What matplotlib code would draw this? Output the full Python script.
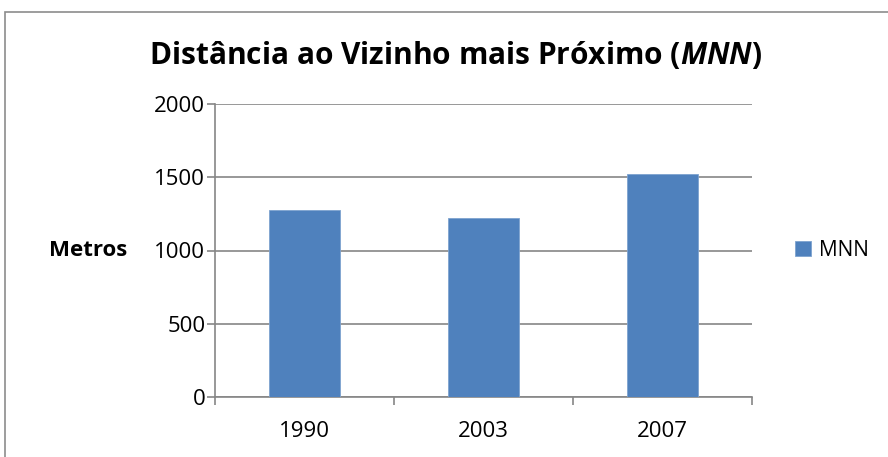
import matplotlib
matplotlib.use("Agg")
import matplotlib.pyplot as plt
from matplotlib.patches import Rectangle

years = ["1990", "2003", "2007"]
mnn = [1277, 1222, 1523]
y_ticks = [0, 500, 1000, 1500, 2000]

plt.rcParams["font.family"] = ["Open Sans", "DejaVu Sans"]
plt.rcParams["mathtext.fontset"] = "custom"
plt.rcParams["mathtext.bfit"] = "Open Sans:italic:bold"

fig = plt.figure(figsize=(8.88, 4.57), dpi=100, facecolor="white")
W, H = 888, 457

# chart border (cropped at right/bottom like the reference)
fig.patches.append(Rectangle((5 / W, -0.05), 1.1, 1 - 12 / H + 0.05,
                             transform=fig.transFigure, fill=False,
                             edgecolor="#8c8c8c", linewidth=1.2))

ax = fig.add_axes([215 / W, 1 - 397 / H, (752 - 215) / W, (397 - 104) / H])
x = range(len(years))
ax.bar(x, mnn, width=0.4, color="#4f81bd", edgecolor="#7ea3cf",
       linewidth=0.6, label="MNN", zorder=3)

ax.set_xlim(-0.5, 2.5)
ax.set_ylim(0, 2000)
ax.set_yticks(y_ticks)
ax.set_xticks(list(x))
ax.set_xticklabels(years)
ax.set_xticks([-0.5, 0.5, 1.5, 2.5], minor=True)
ax.tick_params(axis="x", which="major", length=0, pad=17, labelsize=16)
ax.tick_params(axis="x", which="minor", length=6, color="#868686", width=1.2)
ax.tick_params(axis="y", length=6, color="#868686", width=1.2, labelsize=16, pad=1)
ax.grid(axis="y", color="#868686", linewidth=1.2, zorder=0)

for s in ["top", "right"]:
    ax.spines[s].set_visible(False)
for s in ["left", "bottom"]:
    ax.spines[s].set_color("#868686")
    ax.spines[s].set_linewidth(1.2)

fig.text(127 / W, 1 - 251 / H, "Metros", ha="right", va="center",
         fontsize=16, fontweight="bold")

fig.text(456 / W, 1 - 55 / H,
         r"Distância ao Vizinho mais Próximo ($\mathbfit{MNN}$)",
         ha="center", va="center", fontsize=21.5, fontweight="bold")

ax.legend(loc="center left", bbox_to_anchor=(1.045, 0.5), frameon=False,
          fontsize=15, handlelength=0.75, handleheight=0.75, handletextpad=0.4)

fig.savefig("out.png", dpi=100, facecolor="white")
